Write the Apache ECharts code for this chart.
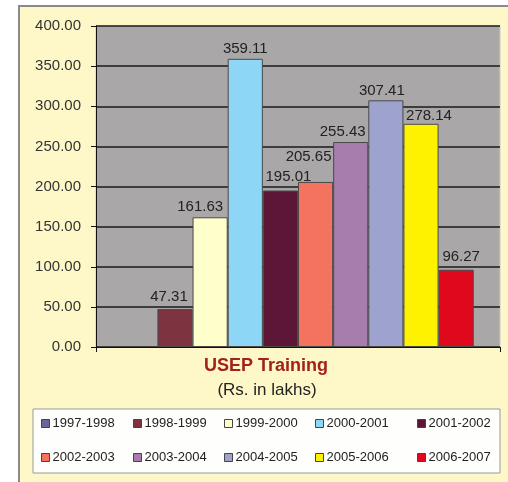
<!DOCTYPE html>
<html><head><meta charset="utf-8">
<script src="https://cdn.jsdelivr.net/npm/echarts@6/dist/echarts.min.js"></script>
<style>html,body{margin:0;padding:0;background:#fff}#c{width:508px;height:482px}</style>
</head><body><div id="c"></div>
<script>
const years = ['1997-1998','1998-1999','1999-2000','2000-2001','2001-2002','2002-2003','2003-2004','2004-2005','2005-2006','2006-2007'];
const values = [null, 47.31, 161.63, 359.11, 195.01, 205.65, 255.43, 307.41, 278.14, 96.27];
const colors = ['#666699','#7E3341','#FFFFCC','#8ED6F6','#5E1636','#F4735E','#A67DAD','#9DA2CE','#FFF200','#E0081C'];
const yTicks = [0, 50, 100, 150, 200, 250, 300, 350, 400];
const titleText = 'USEP Training';
const subtitleText = '(Rs. in lakhs)';

// label nudges (style only), mimicking the original's label placement
const labelNudge = [[0,0],[-6,-1],[-10,1],[0,2],[8,-2.5],[-7,-13.5],[-8,1],[-4,2],[8,3.5],[5,-1.7]];

const chart = echarts.init(document.getElementById('c'), null, {renderer: 'canvas'});
const font = 'Liberation Sans, Arial, sans-serif';
const legendX = [41, 133, 224, 315, 417];
const legendY = [417, 451];
const legends = years.map((y, i) => ({
  data: [y],
  left: legendX[i % 5],
  top: legendY[Math.floor(i / 5)],
  padding: 0,
  icon: 'rect',
  itemWidth: 8,
  itemHeight: 8,
  itemGap: 0,
  selectedMode: false,
  itemStyle: {borderColor: '#444', borderWidth: 1},
  textStyle: {fontFamily: font, fontSize: 13, color: '#222', padding: [0, 0, 0, -2]}
}));

chart.setOption({
  animation: false,
  backgroundColor: '#ffffff',
  graphic: [
    {type: 'rect', z: -10, shape: {x: 19, y: 6, width: 520, height: 500}, style: {fill: '#FEF8C9', stroke: '#8a8a8a', lineWidth: 2}},
    {type: 'rect', z: -5, shape: {x: 33, y: 409, width: 467, height: 64}, style: {fill: '#FEFEFC', stroke: '#9a9a9a', lineWidth: 1}},
    {type: 'text', style: {text: titleText, x: 266, y: 366, textAlign: 'center', textVerticalAlign: 'middle', fontFamily: font, fontSize: 18, fontWeight: 'bold', fill: '#A3201E'}},
    {type: 'text', style: {text: subtitleText, x: 267, y: 390, textAlign: 'center', textVerticalAlign: 'middle', fontFamily: font, fontSize: 17, fill: '#222'}}
  ],
  legend: legends,
  grid: {left: 96, top: 26, right: 8, bottom: 135, show: true, backgroundColor: '#A9A7A8', borderColor: '#c8c8c8', borderWidth: 1},
  xAxis: {
    type: 'category', data: [''],
    axisLine: {lineStyle: {color: '#111', width: 1}},
    axisTick: {show: true, length: 5, lineStyle: {color: '#111'}},
    axisLabel: {show: false}
  },
  yAxis: {
    type: 'value', min: yTicks[0], max: yTicks[yTicks.length - 1], interval: 50,
    axisLine: {show: true, lineStyle: {color: '#111', width: 1}},
    axisTick: {show: true, length: 5, lineStyle: {color: '#111'}},
    axisLabel: {fontFamily: font, fontSize: 15, color: '#333', margin: 15, formatter: v => v.toFixed(2)},
    splitLine: {lineStyle: {color: '#1a1a1a', width: 1.5}}
  },
  series: years.map((y, i) => ({
    name: y, type: 'bar', data: [values[i]],
    barGap: '0%', barCategoryGap: '13%',
    itemStyle: {color: colors[i], borderColor: '#4a4a4a', borderWidth: 1},
    label: {show: values[i] !== null, position: 'top', distance: 4, offset: labelNudge[i], fontFamily: font, fontSize: 15, color: '#222', formatter: p => p.value.toFixed(2)}
  }))
});
</script></body></html>
